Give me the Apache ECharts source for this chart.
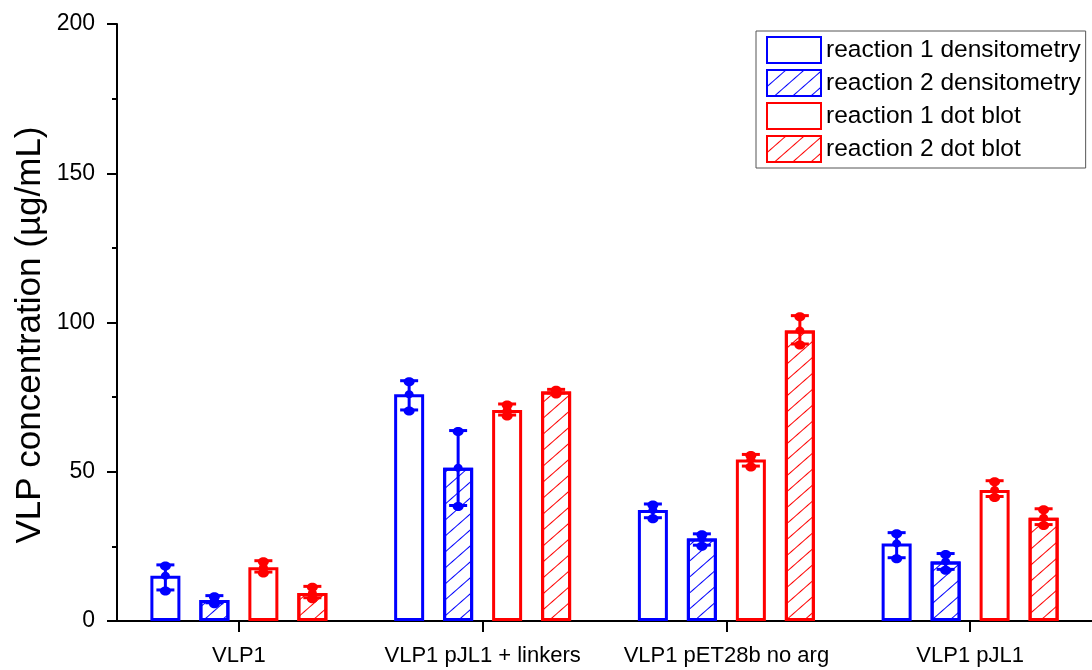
<!DOCTYPE html>
<html>
<head>
<meta charset="utf-8">
<script src="https://cdn.jsdelivr.net/npm/echarts@6/dist/echarts.min.js"></script>
<style>html,body{margin:0;padding:0;background:#fff}#c{width:1092px;height:670px}</style>
</head>
<body>
<div id="c"></div>
<script>
// ---- data ----
const categories = ['VLP1', 'VLP1 pJL1 + linkers', 'VLP1 pET28b no arg', 'VLP1 pJL1'];
const seriesNames = ['reaction 1 densitometry', 'reaction 2 densitometry', 'reaction 1 dot blot', 'reaction 2 dot blot'];

const r1Dens   = [15.2, 76.0, 37.2, 26.0];
const r1DensLo = [10.4, 70.7, 34.6, 21.2];
const r1DensHi = [18.8, 80.5, 39.2, 29.6];

const r2Dens   = [7.0, 51.3, 27.6, 19.9];
const r2DensLo = [6.1, 38.7, 25.4, 17.3];
const r2DensHi = [8.5, 63.8, 29.2, 22.6];

const r1Dot    = [18.0, 70.7, 54.1, 43.9];
const r1DotLo  = [16.4, 69.0, 51.9, 41.7];
const r1DotHi  = [20.2, 72.7, 55.8, 47.0];

const r2Dot    = [9.4, 76.9, 97.3, 34.6];
const r2DotLo  = [7.8, 76.4, 92.8, 32.3];
const r2DotHi  = [11.6, 77.6, 102.3, 37.6];

const yTicks = [0, 50, 100, 150, 200];

// ---- styling ----
const BLUE = '#0000ff', RED = '#ff0000';
const FONT = 'Liberation Sans, Arial, sans-serif';
const BAR_W = 30, BAR_GAP = 0.633;
const PITCH = BAR_W * (1 + BAR_GAP);

function hatch(color) {
  return {
    symbol: 'rect',
    symbolSize: 1,
    color: color,
    backgroundColor: 'rgba(0,0,0,0)',
    dashArrayX: [1, 0],
    dashArrayY: [1, 11],
    rotation: -0.72
  };
}

const groups = [
  { v: r1Dens, lo: r1DensLo, hi: r1DensHi, color: BLUE, decal: null },
  { v: r2Dens, lo: r2DensLo, hi: r2DensHi, color: BLUE, decal: hatch(BLUE) },
  { v: r1Dot,  lo: r1DotLo,  hi: r1DotHi,  color: RED,  decal: null },
  { v: r2Dot,  lo: r2DotLo,  hi: r2DotHi,  color: RED,  decal: hatch(RED) }
];

const series = [];
groups.forEach((g, k) => {
  const itemStyle = { color: '#ffffff', borderColor: g.color, borderWidth: 3 };
  if (g.decal) itemStyle.decal = g.decal;
  series.push({
    name: seriesNames[k],
    type: 'bar',
    data: g.v,
    barWidth: BAR_W,
    barGap: (BAR_GAP * 100) + '%',
    itemStyle: itemStyle,
    z: 2
  });
});
groups.forEach((g, k) => {
  const off = (k - 1.5) * PITCH;
  series.push({
    name: 'err' + k,
    type: 'custom',
    z: 5,
    data: g.v.map((v, i) => [i, v, g.lo[i], g.hi[i]]),
    renderItem: function (params, api) {
      const i = api.value(0);
      const pm = api.coord([i, api.value(1)]);
      const pl = api.coord([i, api.value(2)]);
      const ph = api.coord([i, api.value(3)]);
      const x = pm[0] + off;
      const st = { stroke: g.color, lineWidth: 3 };
      const cw = 9;
      return {
        type: 'group',
        children: [
          { type: 'line', shape: { x1: x, y1: pl[1], x2: x, y2: ph[1] }, style: st },
          { type: 'line', shape: { x1: x - cw, y1: pl[1], x2: x + cw, y2: pl[1] }, style: st },
          { type: 'line', shape: { x1: x - cw, y1: ph[1], x2: x + cw, y2: ph[1] }, style: st },
          { type: 'ellipse', shape: { cx: x, cy: pl[1] + 1, rx: 5.5, ry: 4.5 }, style: { fill: g.color } },
          { type: 'ellipse', shape: { cx: x, cy: ph[1] + 1, rx: 5.5, ry: 4.5 }, style: { fill: g.color } },
          { type: 'ellipse', shape: { cx: x, cy: pm[1], rx: 4.5, ry: 4 }, style: { fill: g.color } }
        ]
      };
    }
  });
});

const chart = echarts.init(document.getElementById('c'), null, { renderer: 'canvas' });
chart.setOption({
  backgroundColor: '#ffffff',
  animation: false,
  textStyle: { fontFamily: FONT },
  aria: { enabled: false, decal: { show: false } },
  grid: { left: 117, top: 24, bottom: 49, width: 979, containLabel: false },
  legend: {
    data: seriesNames,
    orient: 'vertical',
    left: 756, top: 31,
    padding: [5, 5, 5, 10],
    itemWidth: 54, itemHeight: 26, itemGap: 5,
    borderColor: '#555', borderWidth: 1,
    backgroundColor: '#fff',
    icon: 'rect',
    textStyle: { fontSize: 24.5, color: '#000', fontFamily: FONT }
  },
  xAxis: {
    type: 'category',
    data: categories,
    axisLine: { show: true, lineStyle: { color: '#000', width: 2 } },
    axisTick: { show: true, alignWithLabel: true, length: 11, lineStyle: { color: '#000', width: 2 } },
    axisLabel: { color: '#000', fontSize: 22, margin: 24, fontFamily: FONT, interval: 0 },
    splitLine: { show: false }
  },
  yAxis: {
    type: 'value',
    min: yTicks[0], max: yTicks[yTicks.length - 1], interval: 50,
    axisLine: { show: true, lineStyle: { color: '#000', width: 2 } },
    axisTick: { show: true, length: 10, lineStyle: { color: '#000', width: 2 } },
    minorTick: { show: true, splitNumber: 2, length: 5, lineStyle: { color: '#000', width: 2 } },
    axisLabel: { color: '#000', fontSize: 23, margin: 22, fontFamily: FONT },
    splitLine: { show: false }
  },
  graphic: [{
    type: 'text',
    x: 30, y: 335,
    rotation: Math.PI / 2,
    style: {
      text: 'VLP concentration (\u00b5g/mL)',
      font: '35px ' + FONT,
      fill: '#000',
      textAlign: 'center',
      textVerticalAlign: 'middle'
    }
  }],
  series: series
});
</script>
</body>
</html>
